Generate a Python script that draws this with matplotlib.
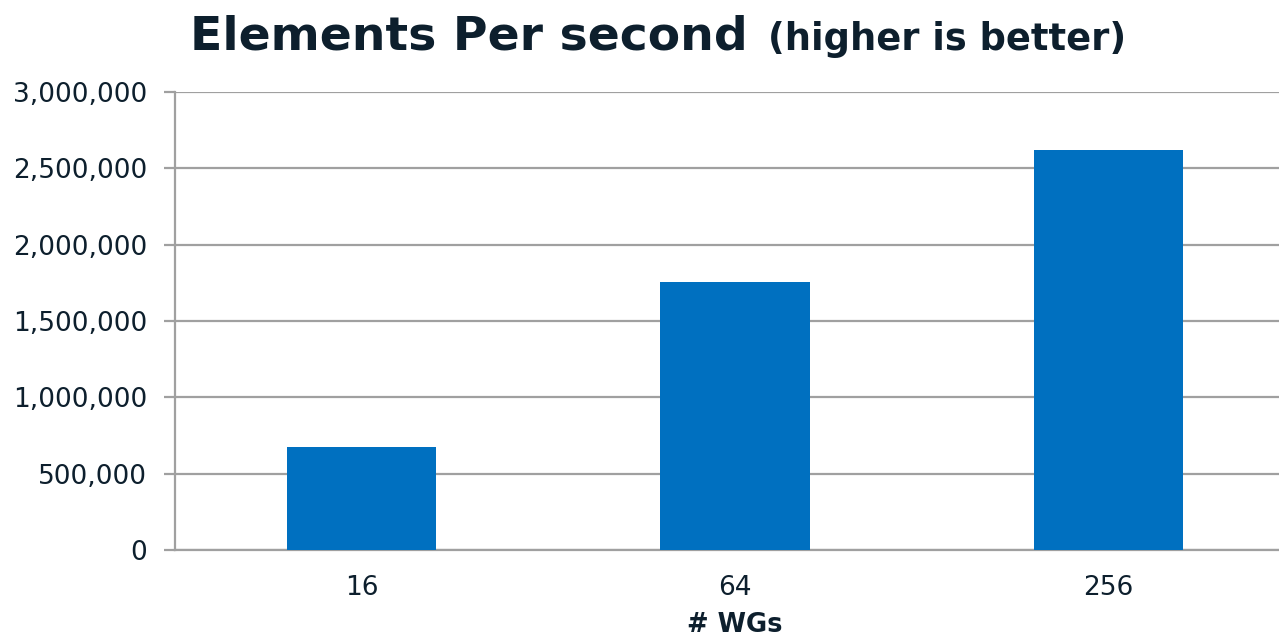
import numpy as np
import matplotlib.pyplot as plt
from matplotlib.ticker import FuncFormatter

# work-group counts and measured throughput
wg_counts = ['16', '64', '256']
elements_per_sec = [675000, 1755000, 2620000]

text_color = '#0d1f2d'
grid_color = '#a0a0a0'
bar_color = '#0070c0'

fig = plt.figure(figsize=(12.79, 6.37), dpi=100)
ax = fig.add_axes([175 / 1279, 1 - 550 / 637, 1120 / 1279, 458 / 637])

x = np.arange(len(wg_counts))
ax.bar(x, elements_per_sec, width=0.4, color=bar_color, zorder=3)

ax.set_xlim(-0.5, 2.5)
ax.set_ylim(0, 3000000)
ax.set_yticks(np.arange(0, 3000001, 500000))
ax.yaxis.set_major_formatter(FuncFormatter(lambda v, p: f'{int(v):,}'))
ax.set_xticks(x)
ax.set_xticklabels(wg_counts)

ax.grid(axis='y', color=grid_color, linewidth=1.6, zorder=0)
for side in ['top', 'right']:
    ax.spines[side].set_visible(False)
for side in ['left', 'bottom']:
    ax.spines[side].set_color(grid_color)
    ax.spines[side].set_linewidth(1.6)

ax.tick_params(axis='y', length=8, width=1.6, color=grid_color,
               labelsize=19, labelcolor=text_color, pad=12)
ax.tick_params(axis='x', length=0, labelsize=19, labelcolor=text_color, pad=18)

ax.set_xlabel('# WGs', fontsize=18.5, fontweight='bold', color=text_color, labelpad=8)

fig.text(190 / 1279, 1 - 50 / 637, 'Elements Per second', fontsize=34,
         fontweight='bold', color=text_color, ha='left', va='baseline')
fig.text(768 / 1279, 1 - 50 / 637, '(higher is better)', fontsize=26.5,
         fontweight='bold', color=text_color, ha='left', va='baseline')

fig.savefig('out.png', dpi=100)
